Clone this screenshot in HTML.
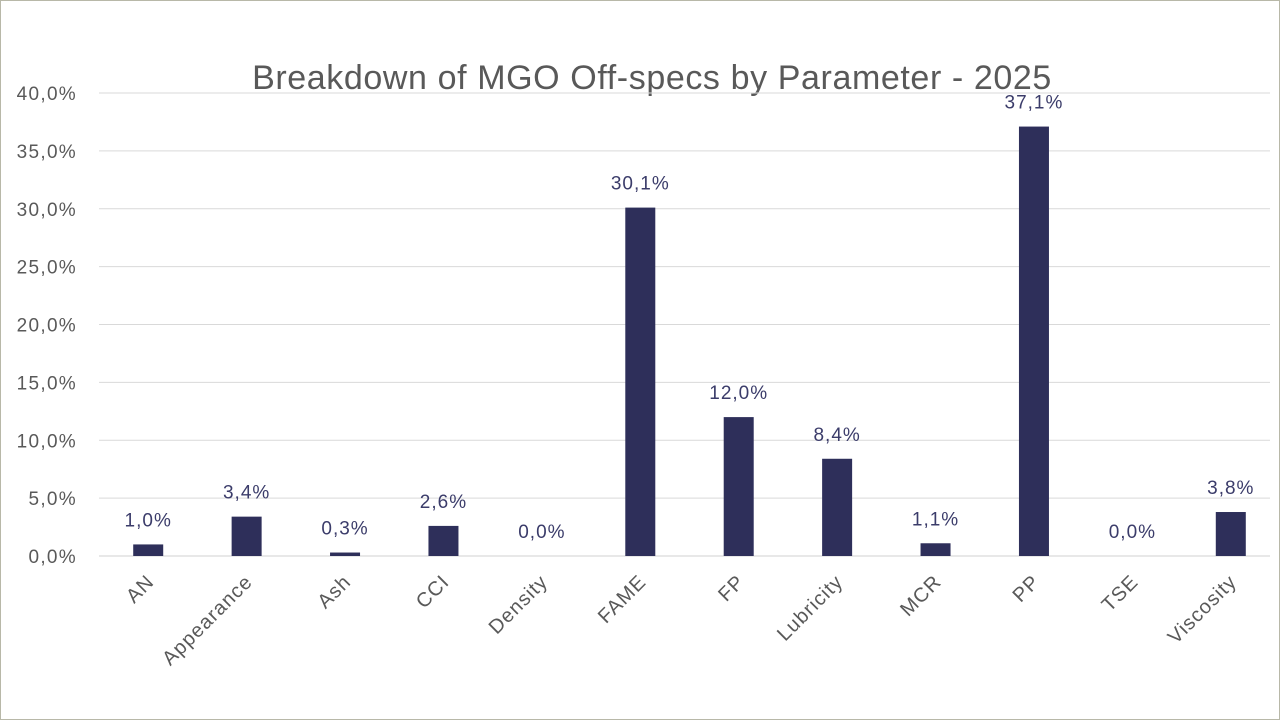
<!DOCTYPE html>
<html><head><meta charset="utf-8"><style>
html,body{margin:0;padding:0;background:#fff;}
svg{display:block;font-family:"Liberation Sans",sans-serif;}
</style></head><body>
<svg id="chart" width="1280" height="720">
<rect x="0.5" y="0.5" width="1279" height="719" fill="#fff" stroke="#b8b8a8"/>
<text x="652" y="89" text-anchor="middle" font-size="34" letter-spacing="0.6" fill="#595959">Breakdown of MGO Off-specs by Parameter - 2025</text>
<g id="grid"></g><g id="bars"></g>
</svg>
<script>
const categories=["AN","Appearance","Ash","CCI","Density","FAME","FP","Lubricity","MCR","PP","TSE","Viscosity"];
const values=[1.0,3.4,0.3,2.6,0.0,30.1,12.0,8.4,1.1,37.1,0.0,3.8];
const ticks=[0,5,10,15,20,25,30,35,40];
const NS="http://www.w3.org/2000/svg";
const x0=99,x1=1280,yBase=556,yTop=93,yMax=40;
const bw=(x1-x0)/categories.length;
const y=v=>yBase-(v/yMax)*(yBase-yTop);
const xc=i=>x0+bw*(i+0.5);
const fmt=v=>v.toFixed(1).replace('.',',')+'%';
const grid=document.getElementById('grid'),bars=document.getElementById('bars');
function mk(tag,attrs,parent){const e=document.createElementNS(NS,tag);for(const k in attrs)e.setAttribute(k,attrs[k]);parent.appendChild(e);return e;}
ticks.forEach(t=>{
 const l=mk('line',{x1:x0,x2:1270,y1:y(t),y2:y(t),stroke:t===0?'#d0d0d0':'#d9d9d9','stroke-width':1},grid);
 
 
 const tx=mk('text',{x:77,y:y(t)+7,'text-anchor':'end','font-size':19,'letter-spacing':1.3,fill:'#595959'},grid);
 tx.textContent=fmt(t);
 
 
});
categories.forEach((c,i)=>{
 const v=values[i];
 const r=mk('rect',{x:xc(i)-15,y:y(v),width:30,height:yBase-y(v),fill:'#2e2f5a'},bars);
 
 
 const lb=mk('text',{x:xc(i),y:y(v)-18,'text-anchor':'middle','font-size':19,'letter-spacing':1,fill:'#3b3c6a'},bars);
 lb.textContent=fmt(v);
 
 
 const xl=mk('text',{x:xc(i)+7,y:583,'text-anchor':'end','font-size':20,'letter-spacing':1,fill:'#595959',transform:`rotate(-45 ${xc(i)+7} 583)`},bars);
 xl.textContent=c;
 
 
});
</script>
</body></html>
